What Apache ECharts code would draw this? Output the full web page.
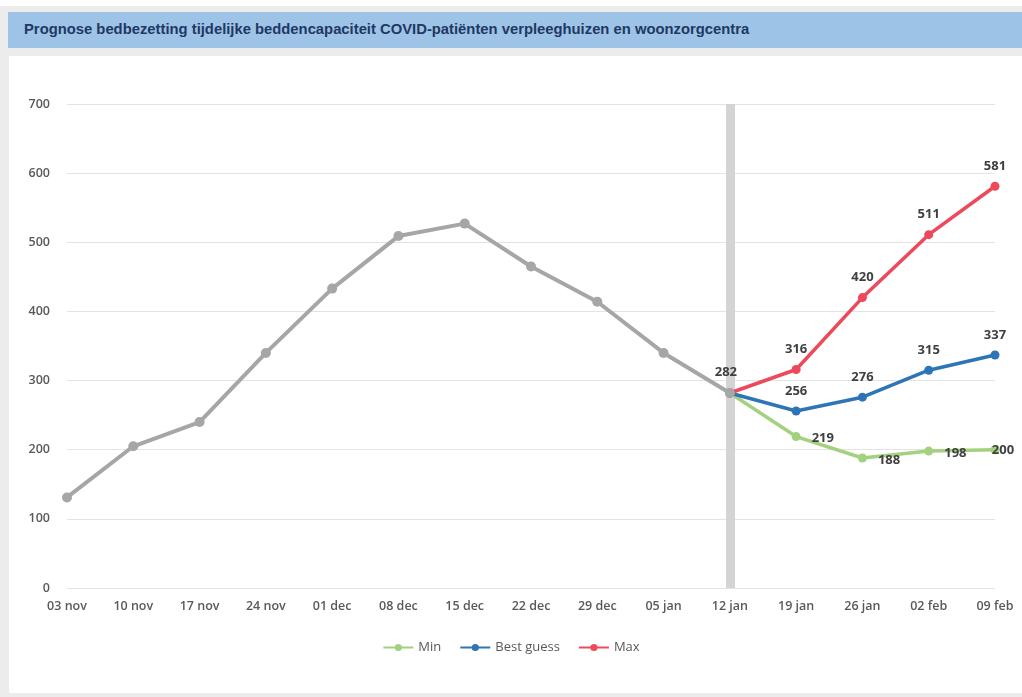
<!DOCTYPE html>
<html>
<head>
<meta charset="utf-8">
<script src="https://cdn.jsdelivr.net/npm/echarts@6/dist/echarts.min.js"></script>
<style>
html,body{margin:0;padding:0;background:#ececec;}
#wrap{position:absolute;left:0;top:0;width:1022px;height:697px;background:#ececec;}
#topwhite{position:absolute;left:0;top:0;width:1022px;height:6px;background:#ffffff;}
#band{position:absolute;left:8px;top:12px;width:1014px;height:36px;background:#9dc3e6;}
#band span{position:absolute;left:16px;top:9px;font-family:"Liberation Sans Narrow","Liberation Sans",sans-serif;font-weight:bold;font-size:14.8px;color:#1f3864;white-space:nowrap;}
#panel{position:absolute;left:9px;top:56px;width:1013px;height:637px;background:#ffffff;}
#chart{position:absolute;left:0;top:0;width:1022px;height:697px;}
</style>
</head>
<body>
<div id="wrap">
<div id="topwhite"></div>
<div id="band"><span>Prognose bedbezetting tijdelijke beddencapaciteit COVID-patiënten verpleeghuizen en woonzorgcentra</span></div>
<div id="panel"></div>
<div id="chart"></div>
</div>
<script>
var categories = ['03 nov','10 nov','17 nov','24 nov','01 dec','08 dec','15 dec','22 dec','29 dec','05 jan','12 jan','19 jan','26 jan','02 feb','09 feb'];
var actualValues = [131, 205, 240, 340, 433, 509, 527, 465, 414, 340, 282, null, null, null, null];
var minValues = [null, null, null, null, null, null, null, null, null, null, 282, 219, 188, 198, 200];
var bestValues = [null, null, null, null, null, null, null, null, null, null, 282, 256, 276, 315, 337];
var maxValues = [null, null, null, null, null, null, null, null, null, null, 282, 316, 420, 511, 581];
var yTicks = [0, 100, 200, 300, 400, 500, 600, 700];

var labelStyle = {fontFamily:'Open Sans, sans-serif', fontSize:13, fontWeight:'bold', color:'#404040'};
function lbl(pos, skipFirst, dx, dy){
  return Object.assign({show:true, position:pos, offset:[dx||0, dy||0],
    formatter:function(p){ if(skipFirst && p.dataIndex===10) return ''; return p.value==null?'':p.value; }}, labelStyle);
}

var minData = minValues.map(function(v, i){
  if (i === minValues.length - 1) return {value:v, label:{position:'inside', offset:[8, 1]}};
  return v;
});

var chart = echarts.init(document.getElementById('chart'), null, {renderer:'canvas'});
chart.setOption({
  animation:false,
  backgroundColor:'transparent',
  grid:{left:67, right:27, top:104, bottom:109},
  legend:{
    data:['Min','Best guess','Max'],
    bottom:38, left:'center',
    itemWidth:30, itemHeight:9, itemGap:18,
    textStyle:{fontFamily:'Open Sans, sans-serif', fontSize:13, color:'#595959'}
  },
  xAxis:{
    type:'category', data:categories, boundaryGap:false,
    axisLine:{show:false}, axisTick:{show:false},
    axisLabel:{fontFamily:'Open Sans, sans-serif', fontSize:12.5, fontWeight:600, color:'#595959', margin:12, interval:0},
    splitLine:{show:false}
  },
  yAxis:{
    type:'value', min:yTicks[0], max:yTicks[yTicks.length-1], interval:100,
    axisLine:{show:false}, axisTick:{show:false},
    axisLabel:{fontFamily:'Open Sans, sans-serif', fontSize:12.5, fontWeight:600, color:'#595959', margin:17},
    splitLine:{lineStyle:{color:'#e3e3e3', width:1}}
  },
  series:[
    {
      name:'Min', type:'line', data:minData, z:3,
      symbol:'circle', symbolSize:9, showSymbol:true,
      lineStyle:{color:'#a3d17f', width:3.5}, itemStyle:{color:'#a3d17f'},
      label:lbl('right', true, 6, 2),
      markLine:{
        silent:true, symbol:'none', label:{show:false}, z:1,
        lineStyle:{color:'#d4d4d4', width:9, type:'solid'},
        data:[{xAxis:'12 jan'}]
      }
    },
    {
      name:'Best guess', type:'line', data:bestValues, z:4,
      symbol:'circle', symbolSize:9,
      lineStyle:{color:'#2e75b6', width:3.5}, itemStyle:{color:'#2e75b6'},
      label:lbl('top', true, 0, -4)
    },
    {
      name:'Max', type:'line', data:maxValues, z:5,
      symbol:'circle', symbolSize:9,
      lineStyle:{color:'#ec4a5b', width:3.5}, itemStyle:{color:'#ec4a5b'},
      label:lbl('top', true, 0, -4)
    },
    {
      name:'Werkelijk', type:'line', data:actualValues, z:6,
      symbol:'circle', symbolSize:10,
      lineStyle:{color:'#a6a6a6', width:4}, itemStyle:{color:'#a6a6a6'},
      label:Object.assign({show:true, position:'top', offset:[-4,-4],
        formatter:function(p){ return p.dataIndex===10 ? p.value : ''; }}, labelStyle)
    }
  ]
});
</script>
</body>
</html>
